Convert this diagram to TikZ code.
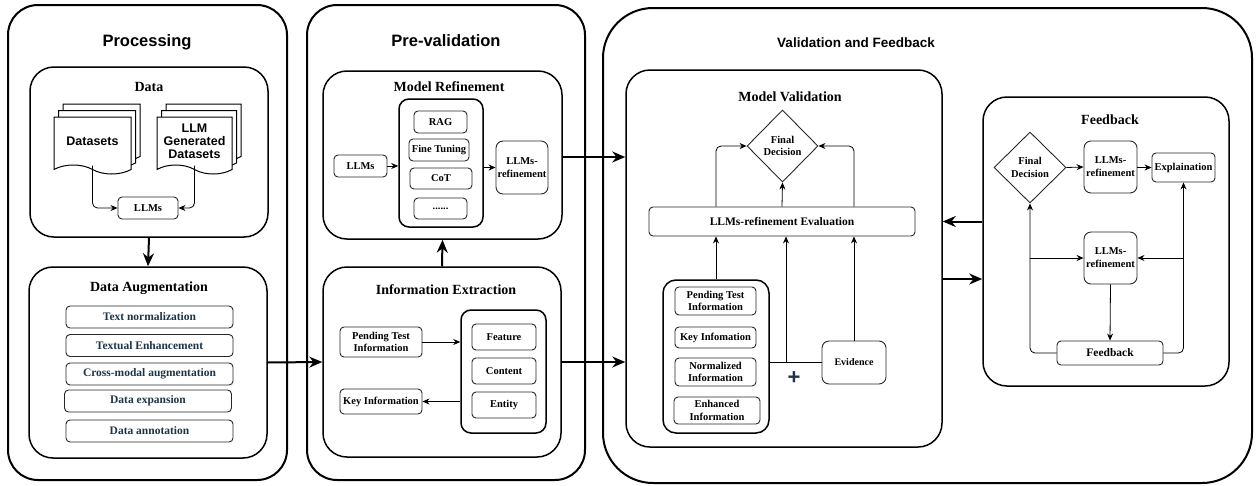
\documentclass[tikz,border=0pt]{standalone}
\usepackage{fontspec}
\setmainfont{Liberation Serif}
\setsansfont{Liberation Sans}
\usepackage{tikz}
\usetikzlibrary{arrows.meta,positioning,shapes.geometric,shapes.symbols,shadows,calc}
\definecolor{augblue}{RGB}{30,52,70}
\definecolor{boxgray}{RGB}{40,40,40}
\newcommand{\paneltitlefont}{\fontsize{16.5}{19}\selectfont\sffamily\bfseries}
\newcommand{\blocktitlefont}{\fontsize{14}{16}\selectfont\bfseries}
\newcommand{\boxfont}{\fontsize{10.5}{12.8}\selectfont\bfseries}
\newcommand{\augfont}{\fontsize{11.5}{13}\selectfont\bfseries}
\newcommand{\docfont}{\fontsize{12.5}{13}\selectfont\sffamily\bfseries}

\begin{document}
\begin{tikzpicture}[
      x=1pt, y=-1pt,
      every node/.style={font=\boxfont},
      panel/.style={rectangle, draw, line width=2pt, rounded corners=30pt},
      block/.style={rectangle, draw, line width=1.5pt, rounded corners=24pt},
      stack/.style={rectangle, draw, line width=1.5pt, rounded corners=10pt},
      box/.style={rectangle, draw=boxgray, line width=0.9pt, rounded corners=4pt,
                  align=center, inner sep=1pt},
      augbox/.style={box, minimum width=167pt, minimum height=22pt,
                     font=\augfont, text=augblue},
      decision/.style={diamond, draw=boxgray, line width=0.9pt, aspect=1,
                       inner sep=0pt, align=center},
      docs/.style={shape=tape, tape bend top=none, tape bend bottom=out and in,
                   tape bend height=9pt, draw, line width=1pt, fill=white,
                   minimum height=57pt, inner sep=0pt, align=center, font=\docfont,
                   copy shadow={shadow xshift=9pt, shadow yshift=13pt,
                                draw=black, fill=white, line width=1pt},
                   copy shadow={shadow xshift=4.5pt, shadow yshift=6.5pt,
                                draw=black, fill=white, line width=1pt}},
      paneltitle/.style={font=\paneltitlefont},
      blocktitle/.style={font=\blocktitlefont},
      arr/.style={-{Stealth[length=7pt, width=6pt]}, line width=0.8pt},
      bigarr/.style={-{Stealth[length=13pt, width=11pt]}, line width=2pt},
    ]
    \useasboundingbox (0,0) rectangle (1258,485);

    % Outer panels
    \node[panel, minimum width=279pt, minimum height=475pt] (proc)   at (147.5,242.5) {};
    \node[panel, minimum width=278pt, minimum height=475pt] (preval) at (446,242.5) {};
    \node[panel, rounded corners=50pt, minimum width=649pt, minimum height=475pt] (valfb) at (927.5,245.5) {};
    \node[paneltitle] (proctitle)   at (147,42) {Processing};
    \node[paneltitle] (prevaltitle) at (446,41) {Pre-validation};
    \node[paneltitle, font=\fontsize{13.5}{16}\selectfont\sffamily\bfseries] (valfbtitle) at (856,43) {Validation and Feedback};

    % Processing blocks
    \node[block, minimum width=238pt, minimum height=170pt] (data) at (149,152) {};
    \node[block, minimum width=238pt, minimum height=191pt] (aug)  at (148,362.5) {};
    \node[blocktitle] at (149,87)  {Data};
    \node[blocktitle] at (149,288) {Data Augmentation};

    \node[docs, minimum width=77pt] (ds)  at (92.5,141)  {Datasets};
    \node[docs, minimum width=75pt] (gen) at (194.5,141) {LLM\\Generated\\Datasets};
    \node[box, minimum width=60pt, minimum height=22pt] (llm1) at (148,208) {LLMs};

    \node[augbox] (norm)  at (149.5,317)   {Text normalization};
    \node[augbox] (enh)   at (149.5,345.5) {Textual Enhancement};
    \node[augbox] (cross) at (149.5,374)   {Cross-modal augmentation};
    \node[augbox] (expa)  at (148,401)     {Data expansion};
    \node[augbox] (anno)  at (149.5,431)   {Data annotation};

    % Pre-validation blocks
    \node[block, minimum width=239pt, minimum height=168pt] (mref) at (442.5,155) {};
    \node[block, minimum width=238pt, minimum height=190pt] (iext) at (442,362) {};
    \node[blocktitle] at (449,87)  {Model Refinement};
    \node[blocktitle] at (446,290) {Information Extraction};

    \node[box, minimum width=53pt, minimum height=22pt] (llm2) at (360.5,166) {LLMs};
    \node[stack, minimum width=84pt, minimum height=128pt] (tech) at (441,163) {};
    \node[box, minimum width=53pt, minimum height=22pt] (rag)  at (440.5,122) {RAG};
    \node[box, minimum width=60pt, minimum height=22pt] (ft)   at (439,150)   {Fine Tuning};
    \node[box, minimum width=62pt, minimum height=21pt] (cot)  at (441,178.5) {CoT};
    \node[box, minimum width=53pt, minimum height=21pt] (dots) at (440.5,208.5) {......};
    \node[box, rounded corners=7pt, minimum width=52pt, minimum height=53pt] (lref) at (522,167.5) {LLMs-\\refinement};

    \node[box, minimum width=82pt, minimum height=30pt] (pti)  at (381,342)   {Pending Test\\Information};
    \node[box, minimum width=82pt, minimum height=25pt] (keyi) at (381,401.5) {Key Information};
    \node[stack, minimum width=85pt, minimum height=123pt] (extr) at (503.5,371.5) {};
    \node[box, minimum width=64pt, minimum height=26pt] (feat) at (504,337) {Feature};
    \node[box, minimum width=64pt, minimum height=26pt] (cont) at (504,371) {Content};
    \node[box, minimum width=64pt, minimum height=26pt] (ent)  at (504,405) {Entity};

    % Model validation
    \node[block, minimum width=316pt, minimum height=377pt] (mval) at (784,258.5) {};
    \node[blocktitle] at (790,97) {Model Validation};
    \node[decision, minimum width=71pt, minimum height=72pt] (fd1) at (782.5,146) {Final\\Decision};
    \node[box, minimum width=266pt, minimum height=29pt, font=\augfont] (eval) at (782,221.5) {LLMs-refinement Evaluation};
    \node[stack, rounded corners=13pt, minimum width=106pt, minimum height=153pt] (info) at (716,356.5) {};
    \node[box, minimum width=81pt, minimum height=28pt] (pti2) at (715.5,301)   {Pending Test\\Information};
    \node[box, minimum width=81pt, minimum height=21pt] (key2) at (715.5,337.5) {Key Infomation};
    \node[box, minimum width=81pt, minimum height=28pt] (nrm2) at (715.5,372)   {Normalized\\Information};
    \node[box, minimum width=86pt, minimum height=27pt] (enh2) at (717,410.5)   {Enhanced\\Information};
    \node[box, rounded corners=7pt, minimum width=64pt, minimum height=43pt, font=\fontsize{10}{12}\selectfont\bfseries] (evid) at (854,362.5) {Evidence};
    \node[font=\fontsize{22}{22}\selectfont\sffamily\bfseries, text=augblue] (plus) at (794,378) {+};
    \coordinate (join) at (786,362.5);

    % Feedback
    \node[block, minimum width=246pt, minimum height=289pt] (fback) at (1106,241.5) {};
    \node[blocktitle] at (1110,120) {Feedback};
    \node[decision, minimum width=72pt, minimum height=71pt] (fd2) at (1030,167.5) {Final\\Decision};
    \node[box, rounded corners=7pt, minimum width=53pt, minimum height=52pt] (lr1) at (1110.5,167) {LLMs-\\refinement};
    \node[box, minimum width=63pt, minimum height=29pt] (expl) at (1183.5,167.5) {Explaination};
    \node[box, rounded corners=7pt, minimum width=53pt, minimum height=52pt] (lr2) at (1110.5,258) {LLMs-\\refinement};
    \node[box, minimum width=106pt, minimum height=24pt, font=\augfont] (fbk) at (1110,353) {Feedback};

    % Arrows inside Data
    \draw[arr, rounded corners=5pt] (ds.south)  |- (llm1.west);
    \draw[arr, rounded corners=5pt] (gen.south) |- (llm1.east);

    % Arrows inside Model Refinement and Information Extraction
    \draw[arr] (llm2.east) -- (llm2.east -| tech.west);
    \draw[arr] (tech.east |- lref.west) -- (lref.west);
    \draw[arr] (pti.east) -- (pti.east -| extr.west);
    \draw[arr] (keyi.east -| extr.west) -- (keyi.east);

    % Arrows inside Model Validation
    \draw[arr] (eval.north) -- (fd1.south);
    \draw[arr, rounded corners=5pt] (info.north |- eval.north) |- (fd1.west);
    \draw[arr, rounded corners=5pt] (evid.north |- eval.north) |- (fd1.east);
    \draw[arr] (info.north) -- (info.north |- eval.south);
    \draw[arr] (join) -- (join |- eval.south);
    \draw[arr] (evid.north) -- (evid.north |- eval.south);
    \draw[line width=0.8pt] (info.east |- evid.west) -- (evid.west);

    % Arrows inside Feedback
    \draw[arr] (fd2.east) -- (lr1.west);
    \draw[arr] (lr1.east |- expl.west) -- (expl.west);
    \draw[arr] (lr2.south) -- (fbk.north);
    \draw[arr, rounded corners=5pt] (fbk.west) -| (fd2.south);
    \draw[arr, rounded corners=5pt] (fbk.east) -| (expl.south);
    \draw[arr] (fd2.south |- lr2.west) -- (lr2.west);
    \draw[arr] (expl.south |- lr2.east) -- (lr2.east);

    % Arrows between blocks
    \draw[bigarr] (data.south) -- (aug.north);
    \draw[bigarr] (aug.east) -- (iext.west);
    \draw[bigarr] (iext.north) -- (mref.south);
    \draw[bigarr] ($(mref.east)+(0,2)$) -- ($(mref.east -| mval.west)+(0,2)$);
    \draw[bigarr] (iext.east) -- (iext.east -| mval.west);
    \draw[bigarr] (fback.west |- eval.east) -- (mval.east |- eval.east);
    \draw[bigarr] ($(mval.east)+(0,20.5)$) -- ($(mval.east -| fback.west)+(0,20.5)$);
  \end{tikzpicture}
\end{document}
